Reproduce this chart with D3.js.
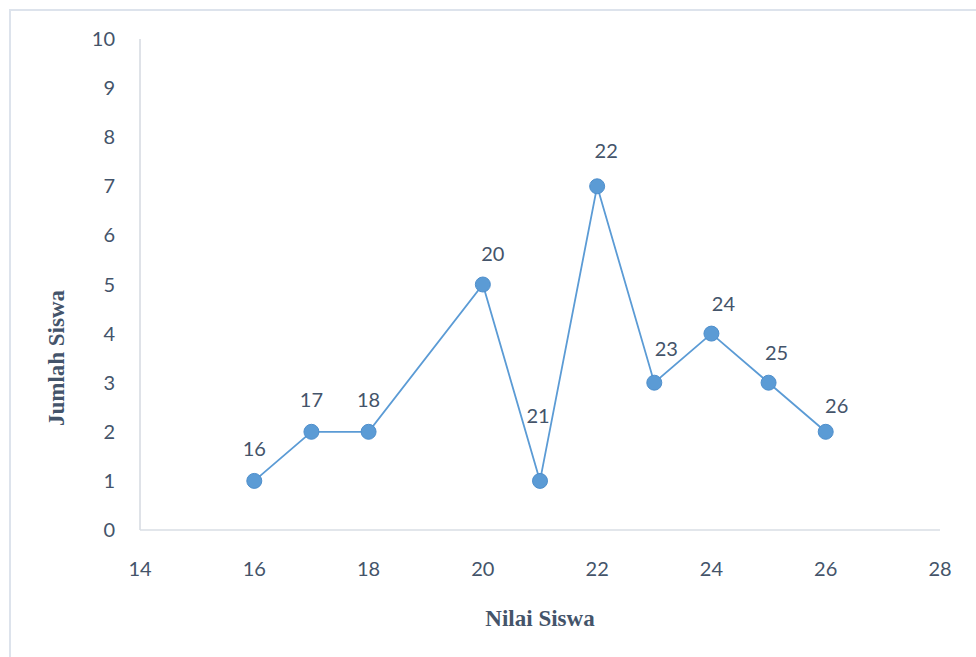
<!DOCTYPE html>
<html>
<head>
<meta charset="utf-8">
<script src="https://cdn.jsdelivr.net/npm/d3@7"></script>
<style>
  body { margin: 0; background: #fff; }
  svg { display: block; }
</style>
</head>
<body>
<svg id="chart" width="976" height="657"></svg>
<script>
// data
var nilai = [16, 17, 18, 20, 21, 22, 23, 24, 25, 26];
var jumlah = [1, 2, 2, 5, 1, 7, 3, 4, 3, 2];
var xTicks = [14, 16, 18, 20, 22, 24, 26, 28];
var yTicks = [0, 1, 2, 3, 4, 5, 6, 7, 8, 9, 10];

// label nudges (px) so labels sit like in the original
var labelDx = [0, 0, 0, 10, -2, 9, 12, 12, 8, 11];
var labelDy = [-32, -32, -32, -31, -65, -35, -34, -30, -30, -26];

var svg = d3.select("#chart");
var textColor = "#44546a";
var blue = "#5b9bd5";
var sans = "Lato, 'Open Sans', sans-serif";
var serif = "'Liberation Serif', 'Times New Roman', serif";

// outer frame
svg.append("rect")
  .attr("x", 10).attr("y", 10)
  .attr("width", 980).attr("height", 660)
  .attr("fill", "none")
  .attr("stroke", "#dde3ec")
  .attr("stroke-width", 2);

var x = d3.scaleLinear().domain([14, 28]).range([140, 940]);
var y = d3.scaleLinear().domain([0, 10]).range([530, 39]);

// axis lines
svg.append("line")
  .attr("x1", x(14)).attr("x2", x(14))
  .attr("y1", y(10)).attr("y2", y(0))
  .attr("stroke", "#bfc6d1").attr("stroke-width", 1);
svg.append("line")
  .attr("x1", x(14)).attr("x2", x(28))
  .attr("y1", y(0)).attr("y2", y(0))
  .attr("stroke", "#d9dee5").attr("stroke-width", 1.5);

// tick labels
svg.selectAll(".ytick").data(yTicks).enter()
  .append("text")
  .attr("class", "ytick")
  .attr("x", 115)
  .attr("y", function(d) { return y(d); })
  .attr("dy", "0.35em")
  .attr("text-anchor", "end")
  .attr("font-family", sans)
  .attr("font-size", 20)
  .attr("fill", textColor)
  .text(function(d) { return d; });

svg.selectAll(".xtick").data(xTicks).enter()
  .append("text")
  .attr("class", "xtick")
  .attr("x", function(d) { return x(d); })
  .attr("y", 569)
  .attr("dy", "0.35em")
  .attr("text-anchor", "middle")
  .attr("font-family", sans)
  .attr("font-size", 20)
  .attr("fill", textColor)
  .text(function(d) { return d; });

// axis titles
svg.append("text")
  .attr("x", 540).attr("y", 626)
  .attr("text-anchor", "middle")
  .attr("font-family", serif)
  .attr("font-weight", "bold")
  .attr("font-size", 23)
  .attr("fill", textColor)
  .text("Nilai Siswa");

svg.append("text")
  .attr("transform", "translate(64,358) rotate(-90)")
  .attr("text-anchor", "middle")
  .attr("font-family", serif)
  .attr("font-weight", "bold")
  .attr("font-size", 23)
  .attr("fill", textColor)
  .text("Jumlah Siswa");

// series
var pts = nilai.map(function(v, i) { return [v, jumlah[i]]; });

var line = d3.line()
  .x(function(d) { return x(d[0]); })
  .y(function(d) { return y(d[1]); });

svg.append("path")
  .datum(pts)
  .attr("d", line)
  .attr("fill", "none")
  .attr("stroke", blue)
  .attr("stroke-width", 1.8);

svg.selectAll(".dot").data(pts).enter()
  .append("circle")
  .attr("class", "dot")
  .attr("cx", function(d) { return x(d[0]); })
  .attr("cy", function(d) { return y(d[1]); })
  .attr("r", 7.5)
  .attr("fill", blue)
  .attr("stroke", "#4f8fcc")
  .attr("stroke-width", 1);

// point labels (x value above each point)
svg.selectAll(".plabel").data(pts).enter()
  .append("text")
  .attr("class", "plabel")
  .attr("x", function(d, i) { return x(d[0]) + labelDx[i]; })
  .attr("y", function(d, i) { return y(d[1]) + labelDy[i]; })
  .attr("dy", "0.35em")
  .attr("text-anchor", "middle")
  .attr("font-family", sans)
  .attr("font-size", 20)
  .attr("fill", textColor)
  .text(function(d) { return d[0]; });
</script>
</body>
</html>
